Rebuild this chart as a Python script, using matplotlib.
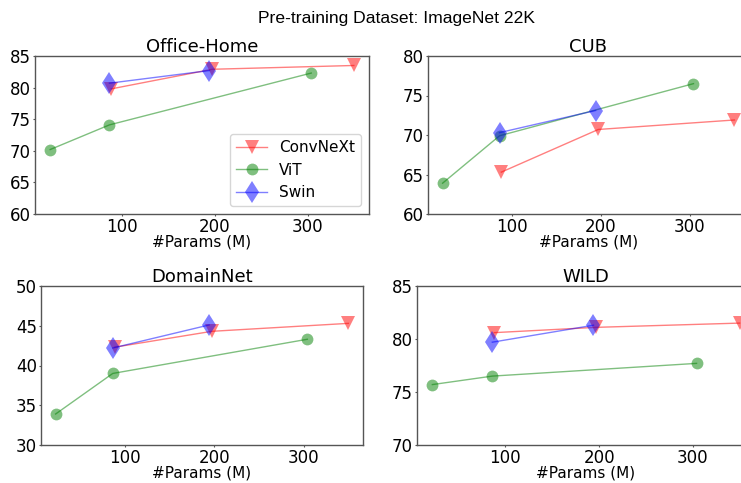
import matplotlib
matplotlib.use("Agg")
import matplotlib.pyplot as plt

datasets = ["Office-Home", "CUB", "DomainNet", "WILD"]

convnext_params = [88, 197, 350]
vit_params = [22, 86, 304]
swin_params = [86, 194]

convnext_acc = {
    "Office-Home": [79.8, 82.9, 83.5],
    "CUB": [65.3, 70.7, 71.9],
    "DomainNet": [42.3, 44.3, 45.3],
    "WILD": [80.6, 81.1, 81.5],
}
vit_acc = {
    "Office-Home": [70.2, 74.1, 82.3],
    "CUB": [63.9, 69.9, 76.5],
    "DomainNet": [33.9, 39.0, 43.3],
    "WILD": [75.7, 76.5, 77.7],
}
swin_acc = {
    "Office-Home": [80.7, 82.7],
    "CUB": [70.3, 73.1],
    "DomainNet": [42.2, 45.1],
    "WILD": [79.7, 81.3],
}
ylims = {
    "Office-Home": (60, 85),
    "CUB": (60, 80),
    "DomainNet": (30, 50),
    "WILD": (70, 85),
}
yticks = {
    "Office-Home": [60, 65, 70, 75, 80, 85],
    "CUB": [60, 65, 70, 75, 80],
    "DomainNet": [30, 35, 40, 45, 50],
    "WILD": [70, 75, 80, 85],
}
xticks = [100, 200, 300]

W, H = 741, 483
fig = plt.figure(figsize=(W / 100, H / 100), dpi=100)

# axes boxes in pixels: left, top, right, bottom
boxes = {
    "Office-Home": (35, 56, 369, 214),
    "CUB": (428, 56, 749, 214),
    "DomainNet": (41, 286, 363, 445),
    "WILD": (417, 286, 755, 445),
}

for i, name in enumerate(datasets):
    l, t, r, b = boxes[name]
    ax = fig.add_axes([l / W, 1 - b / H, (r - l) / W, (b - t) / H])
    ax.plot(convnext_params, convnext_acc[name], color="red", marker="v",
            markersize=9.5, markeredgewidth=0, linewidth=1, alpha=0.5,
            label="ConvNeXt")
    ax.plot(vit_params, vit_acc[name], color="green", marker="o",
            markersize=8.5, markeredgewidth=0, linewidth=1, alpha=0.5,
            label="ViT")
    ax.plot(swin_params, swin_acc[name], color="blue", marker="d",
            markersize=11.5, markeredgewidth=0, linewidth=1, alpha=0.5,
            label="Swin")
    ax.set_ylim(*ylims[name])
    ax.set_yticks(yticks[name])
    ax.set_xticks(xticks)
    ax.set_title(name, fontsize=13, pad=3)
    ax.set_xlabel("#Params (M)", fontsize=11, labelpad=-1)
    ax.tick_params(labelsize=12, length=1.5, width=0.8, color="#555555", pad=1.5)
    for s in ax.spines.values():
        s.set_color("#555555")
        s.set_linewidth(1.0)
    if name == "Office-Home":
        ax.legend(loc="lower right", fontsize=11)

fig.text(397 / W, 1 - 18 / H, "Pre-training Dataset: ImageNet 22K",
         ha="center", va="center", fontsize=12.6, family="Liberation Sans")

fig.savefig("out.png", dpi=100)
